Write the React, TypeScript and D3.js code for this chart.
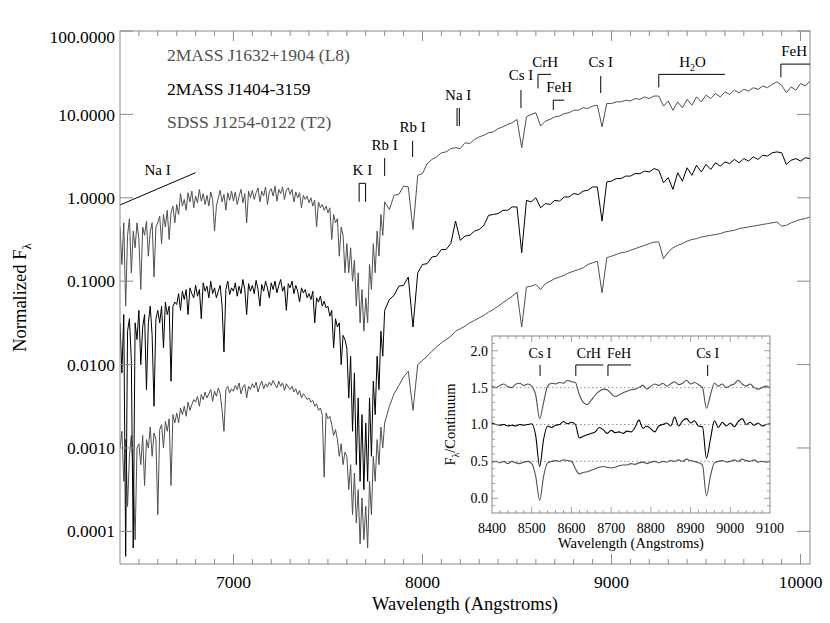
import React from 'react';
import * as d3 from 'd3';

// ---------- DATA ----------
// wavelength grid (Angstroms) shared by the three spectra
const blueWavelengths = [
  6400,6410,6420,6430,6440,6450,6460,6470,6480,6490,
  6500,6510,6520,6530,6540,6550,6560,6570,6580,6590,
  6600,6610,6620,6630,6640,6650,6660,6670,6680,6690,
  6700,6710,6720,6730,6740,6750,6760,6770,6780,6790,
  6800,6810,6820,6830,6840,6850,6860,6870,6880,6890,
  6900,6910,6920,6930,6940,6950,6960,6970,6980,6990,
  7000,7010,7020,7030,7040,7050,7060,7070,7080,7090,
  7100,7110,7120,7130,7140,7150,7160,7170,7180,7190,
  7200,7210,7220,7230,7240,7250,7260,7270,7280,7290,
  7300,7310,7320,7330,7340,7350,7360,7370,7380,7390,
  7400,7410,7420,7430,7440,7450,7460,7470,7480,7490,
  7500,7510,7520,7530,7540,7550,7560,7570,7580,7590,
  7600,7610,7620,7630,7640,7650,7660,7670,7680,7690,
  7700,7710,7720,7730,7740,7750,7760,7770,7780,7790,
];
const redWavelengths = [
  7800,7825,7850,7875,7900,7925,7950,7975,8000,8025,
  8050,8075,8100,8125,8150,8175,8200,8225,8250,8275,
  8300,8325,8350,8375,8400,8425,8450,8475,8500,8525,
  8550,8575,8600,8625,8650,8675,8700,8725,8750,8775,
  8800,8825,8850,8875,8900,8925,8950,8975,9000,9025,
  9050,9075,9100,9125,9150,9175,9200,9225,9250,9275,
  9300,9325,9350,9375,9400,9425,9450,9475,9500,9525,
  9550,9575,9600,9625,9650,9675,9700,9725,9750,9775,
  9800,9825,9850,9875,9900,9925,9950,9975,10000,10025,
  10050,
];
const wavelengths = [...blueWavelengths, ...redWavelengths];

// log10 of normalized F_lambda
const l8LogFlux = [
  -0.35,-0.8,-0.3,-1.3,-0.45,-0.25,-0.9,-0.4,-0.6,-0.3,
  -0.5,-1.1,-0.35,-0.45,-0.28,-0.7,-0.4,-0.3,-0.95,-0.35,
  -0.3,-0.22,-0.55,-0.2,-0.35,-0.15,-0.5,-0.18,-0.1,-0.3,
  -0.08,-0.2,0.05,-0.1,-0.02,-0.15,0.06,-0.05,0.08,-0.12,
  0.02,-0.06,0.1,-0.04,0.05,-0.08,0.03,-0.1,0.07,-0.02,
  -0.4,-0.1,0.0,0.09,-0.05,0.04,-0.15,0.06,-0.03,0.08,
  -0.04,0.07,-0.08,0.02,0.1,-0.06,0.05,-0.3,0.08,0.0,
  0.09,-0.02,0.06,0.12,-0.05,0.08,0.02,0.13,-0.08,0.07,
  0.11,0.02,0.14,-0.04,0.1,0.05,0.13,-0.02,0.09,0.12,
  0.04,0.1,-0.05,0.07,0.0,0.06,-0.12,0.03,-0.02,0.02,
  -0.06,0.0,-0.1,-0.03,-0.35,-0.05,-0.12,-0.08,-0.15,-0.1,
  -0.18,-0.12,-0.5,-0.2,-0.3,-0.25,-0.7,-0.35,-0.45,-0.9,
  -0.55,-0.9,-0.6,-1.0,-0.75,-1.3,-0.9,-1.5,-1.1,-1.6,
  -1.2,-1.5,-0.8,-1.1,-0.55,-0.9,-0.4,-0.7,-0.2,-0.45,
  -0.05,-0.14,0.03,0.04,0.14,0.13,-0.38,0.27,0.29,0.41,
  0.46,0.49,0.54,0.55,0.59,0.6,0.59,0.66,0.65,0.7,
  0.73,0.75,0.78,0.79,0.83,0.85,0.88,0.9,0.94,0.6,
  0.97,1.0,1.02,0.86,0.92,0.94,0.97,0.98,1.01,1.02,
  1.05,1.05,1.08,1.07,1.1,1.11,0.85,1.13,1.13,1.15,
  1.15,1.17,1.16,1.19,1.18,1.21,1.19,1.22,1.22,1.1,
  1.16,1.05,1.15,1.08,1.18,1.11,1.21,1.15,1.23,1.19,
  1.25,1.21,1.27,1.24,1.29,1.26,1.3,1.28,1.32,1.3,
  1.34,1.32,1.36,1.39,1.35,1.26,1.33,1.29,1.37,1.34,
  1.4,
];
const j1404LogFlux = [
  -1.5,-2.1,-1.4,-4.3,-1.6,-1.45,-1.95,-4.2,-1.5,-1.7,
  -1.35,-2.0,-1.55,-1.4,-2.3,-1.5,-1.3,-1.65,-2.5,-1.45,
  -1.35,-1.5,-1.3,-1.8,-1.25,-1.4,-1.3,-2.2,-1.3,-1.25,
  -1.28,-1.15,-1.35,-1.12,-1.22,-1.1,-1.4,-1.08,-1.15,-1.2,
  -1.05,-1.18,-1.1,-1.45,-1.02,-1.12,-1.06,-1.2,-1.0,-1.15,
  -1.08,-1.2,-1.12,-1.05,-1.3,-1.85,-1.1,-1.0,-1.16,-1.08,
  -1.12,-1.02,-1.18,-1.06,-1.15,-0.98,-1.1,-1.4,-1.03,-1.12,
  -1.05,-1.15,-0.99,-1.1,-1.3,-1.04,-1.12,-1.0,-1.08,-1.2,
  -1.02,-1.1,-1.0,-1.14,-1.05,-0.98,-1.12,-1.06,-1.35,-1.03,
  -1.08,-1.0,-1.15,-1.05,-1.12,-1.25,-1.08,-1.14,-1.1,-1.2,
  -1.15,-1.22,-1.12,-1.5,-1.2,-1.25,-1.18,-1.3,-1.24,-1.32,
  -1.3,-1.42,-1.35,-1.8,-1.45,-1.55,-1.5,-2.0,-1.65,-1.7,
  -1.8,-2.4,-1.9,-2.8,-2.1,-3.2,-2.4,-3.4,-2.6,-3.5,
  -2.7,-3.4,-2.4,-3.1,-2.2,-2.6,-1.9,-2.3,-1.6,-1.9,
  -1.35,-1.22,-1.17,-1.06,-1.05,-0.95,-1.55,-0.9,-0.8,-0.79,
  -0.71,-0.7,-0.62,-0.62,-0.55,-0.28,-0.51,-0.46,-0.45,-0.4,
  -0.38,-0.33,-0.21,-0.2,-0.19,-0.15,-0.15,-0.11,-0.11,-0.66,
  -0.03,-0.05,0.0,-0.12,-0.07,-0.08,-0.03,-0.04,0.01,0.01,
  0.05,0.04,0.08,0.09,0.13,0.13,-0.28,0.19,0.2,0.23,
  0.23,0.26,0.26,0.29,0.29,0.32,0.31,0.35,0.33,0.18,
  0.24,0.1,0.3,0.2,0.36,0.27,0.39,0.31,0.4,0.34,
  0.42,0.38,0.43,0.41,0.46,0.42,0.47,0.44,0.49,0.46,
  0.51,0.5,0.54,0.55,0.54,0.4,0.45,0.47,0.44,0.48,
  0.47,
];
const t2LogFlux = [
  -3.0,-2.8,-3.4,-2.9,-3.7,-3.1,-2.85,-3.3,-4.1,-3.0,
  -2.95,-3.2,-2.85,-3.45,-2.9,-3.0,-2.75,-3.1,-2.82,-2.9,
  -3.8,-2.78,-2.72,-3.0,-2.68,-2.8,-2.65,-3.45,-2.6,-2.7,
  -2.58,-2.7,-2.52,-2.6,-2.5,-2.62,-2.45,-2.55,-2.48,-2.42,
  -2.45,-2.38,-2.5,-2.36,-2.42,-2.33,-2.4,-2.35,-2.3,-2.44,
  -2.32,-2.38,-2.28,-2.35,-2.55,-2.8,-2.3,-2.26,-2.34,-2.29,
  -2.32,-2.25,-2.3,-2.22,-2.35,-2.27,-2.24,-2.4,-2.26,-2.3,
  -2.23,-2.28,-2.21,-2.33,-2.25,-2.2,-2.29,-2.23,-2.27,-2.21,
  -2.25,-2.19,-2.24,-2.28,-2.2,-2.26,-2.22,-2.31,-2.23,-2.27,
  -2.3,-2.26,-2.33,-2.29,-2.36,-2.31,-2.4,-2.35,-2.38,-2.42,
  -2.4,-2.45,-2.43,-2.5,-2.47,-2.55,-2.52,-2.6,-3.35,-2.58,
  -2.65,-2.62,-2.72,-2.85,-2.78,-2.9,-3.1,-2.95,-3.2,-3.05,
  -3.1,-3.5,-3.2,-3.8,-3.3,-3.9,-3.5,-4.15,-3.6,-4.1,
  -3.7,-4.2,-3.4,-3.8,-3.1,-3.4,-2.9,-3.2,-2.75,-3.0,
  -2.7,-2.5,-2.35,-2.25,-2.15,-2.08,-2.55,-2.0,-1.95,-1.9,
  -1.84,-1.79,-1.74,-1.7,-1.66,-1.6,-1.57,-1.54,-1.5,-1.47,
  -1.44,-1.41,-1.37,-1.34,-1.3,-1.26,-1.22,-1.18,-1.13,-1.55,
  -1.07,-1.06,-1.04,-1.1,-1.03,-1.0,-0.97,-0.95,-0.93,-0.9,
  -0.88,-0.86,-0.84,-0.8,-0.78,-0.76,-1.14,-0.72,-0.7,-0.68,
  -0.66,-0.65,-0.63,-0.61,-0.59,-0.57,-0.55,-0.53,-0.53,-0.73,
  -0.65,-0.6,-0.57,-0.55,-0.52,-0.5,-0.49,-0.47,-0.46,-0.45,
  -0.44,-0.43,-0.41,-0.4,-0.39,-0.37,-0.36,-0.35,-0.34,-0.33,
  -0.32,-0.31,-0.3,-0.29,-0.34,-0.33,-0.3,-0.28,-0.26,-0.25,
  -0.23,
];

const sourceNames = ['2MASS J1632+1904 (L8)', '2MASS J1404-3159', 'SDSS J1254-0122 (T2)'];
const yTickValues = [100, 10, 1, 0.1, 0.01, 0.001, 0.0001];
const xTickLabels = [7000, 8000, 9000, 10000];

// inset: F_lambda / continuum (offset)
const insetWavelengths = [
  8400,8410,8420,8430,8440,8450,8460,8470,8480,8490,
  8500,8510,8520,8530,8540,8550,8560,8570,8580,8590,
  8600,8610,8620,8630,8640,8650,8660,8670,8680,8690,
  8700,8710,8720,8730,8740,8750,8760,8770,8780,8790,
  8800,8810,8820,8830,8840,8850,8860,8870,8880,8890,
  8900,8910,8920,8930,8940,8950,8960,8970,8980,8990,
  9000,9010,9020,9030,9040,9050,9060,9070,9080,9090,
  9100,
];
const insetL8 = [
  1.52,1.5,1.53,1.55,1.51,1.5,1.55,1.56,1.53,1.55,
  1.52,1.4,1.08,1.3,1.52,1.56,1.55,1.57,1.56,1.6,
  1.58,1.57,1.4,1.3,1.27,1.33,1.4,1.45,1.48,1.47,
  1.42,1.38,1.4,1.43,1.45,1.47,1.48,1.5,1.53,1.48,
  1.52,1.55,1.53,1.56,1.52,1.55,1.58,1.54,1.56,1.6,
  1.55,1.57,1.54,1.5,1.22,1.4,1.56,1.52,1.55,1.5,
  1.53,1.55,1.6,1.55,1.52,1.55,1.5,1.48,1.5,1.52,
  1.5,
];
const insetJ1404 = [
  1.02,1.0,0.99,1.0,0.98,0.99,0.98,1.0,0.99,1.0,
  1.01,0.85,0.43,0.8,0.98,0.96,0.99,1.0,1.04,1.01,
  1.03,1.0,0.82,0.84,0.86,0.88,0.9,0.96,0.93,0.88,
  0.92,0.89,0.9,0.88,0.91,0.9,0.96,1.06,0.95,0.98,
  0.94,0.9,0.98,1.0,1.02,0.98,1.1,0.98,1.05,1.08,
  1.02,1.05,0.98,0.97,0.54,0.8,1.05,0.96,1.03,0.98,
  1.02,0.97,1.04,1.08,1.0,1.03,0.99,1.02,0.98,1.0,
  1.01,
];
const insetT2 = [
  0.49,0.5,0.48,0.5,0.47,0.5,0.48,0.47,0.49,0.5,
  0.47,0.3,-0.03,0.3,0.48,0.5,0.51,0.5,0.52,0.51,
  0.5,0.4,0.33,0.35,0.36,0.38,0.4,0.42,0.43,0.42,
  0.41,0.42,0.44,0.45,0.45,0.47,0.46,0.48,0.49,0.47,
  0.49,0.5,0.48,0.5,0.49,0.51,0.5,0.52,0.5,0.53,
  0.51,0.5,0.48,0.45,0.03,0.3,0.48,0.5,0.51,0.49,
  0.5,0.52,0.5,0.53,0.51,0.5,0.52,0.49,0.5,0.49,
  0.5,
];
const insetXTicks = [8400, 8500, 8600, 8700, 8800, 8900, 9000, 9100];
const insetYTicks = [0, 0.5, 1, 1.5, 2];
const insetLevels = [0.5, 1, 1.5];

// line identifications (wavelength in Angstroms, heights in normalized flux)
const mainTicks = [
  { label: 'Rb I', wl: [7800], lo: 1.82, hi: 2.99, ty: 4.28 },
  { label: 'Rb I', wl: [7948], lo: 3.08, hi: 4.82, ty: 7.04 },
  { label: 'Na I', wl: [8183, 8195], lo: 7.24, hi: 11.9, ty: 17.0 },
  { label: 'Cs I', wl: [8521], lo: 11.9, hi: 19.6, ty: 29.6 },
  { label: 'Cs I', wl: [8943], lo: 18.0, hi: 28.8, ty: 42.7 },
];
const mainBands = [
  { label: 'CrH', from: 8611, to: 8680, lo: 20.5, hi: 30.2, tx: 8649, ty: 42.7 },
  { label: 'FeH', from: 8692, to: 8750, lo: 11.3, hi: 14.8, tx: 8723, ty: 21.4 },
  { label: 'H2O', from: 9250, to: 9600, lo: 21.1, hi: 30.2, tx: 9429, ty: 42.7 },
  { label: 'FeH', from: 9896, to: 10050, lo: 27.8, hi: 40.1, tx: 9966, ty: 57.4 },
];
const kIDoublet = { label: 'K I', from: 7665, to: 7699, lo: 0.895, hi: 1.49, tx: 7682, ty: 2.15 };
const naIWing = { label: 'Na I', from: [6400, 0.82], to: [6800, 2.0], tx: 6599, ty: 2.15 };

const insetTicks = [
  { label: 'Cs I', wl: 8521 },
  { label: 'Cs I', wl: 8943 },
];
const insetBands = [
  { label: 'CrH', from: 8611, to: 8680, tx: 8644 },
  { label: 'FeH', from: 8692, to: 8750, tx: 8720 },
];

// ---------- CHART ----------
const FONT = "'Liberation Serif','Times New Roman',Times,serif";
const GRAY = '#505050';
const AXIS = '#8a8a8a';

export default function App() {
  const P = { left: 120, right: 810, top: 31, bottom: 564 };
  const x = d3.scaleLinear().domain([6400, 10050]).range([P.left, P.right]);
  const y = d3.scaleLog().domain([4.06e-5, 100]).range([P.bottom, P.top]);

  const specLine = d3
    .line<number>()
    .x((_, i) => x(wavelengths[i]))
    .y((v) => y(Math.pow(10, v)));

  const series = [
    { vals: l8LogFlux, color: GRAY },
    { vals: t2LogFlux, color: GRAY },
    { vals: j1404LogFlux, color: '#000' },
  ];

  const I = { left: 492, right: 770, top: 336, bottom: 513 };
  const ix = d3.scaleLinear().domain([8400, 9100]).range([I.left, I.right]);
  const iy = d3.scaleLinear().domain([-0.2, 2.2]).range([I.bottom, I.top]);
  const insetLine = d3
    .line<number>()
    .x((_, i) => ix(insetWavelengths[i]))
    .y((v) => iy(v))
    .curve(d3.curveMonotoneX);
  const insetSeries = [
    { vals: insetL8, color: GRAY },
    { vals: insetT2, color: GRAY },
    { vals: insetJ1404, color: '#000' },
  ];

  const xMinor = d3.range(6500, 10050, 100);
  const ixMinor = d3.range(8420, 9100, 20);
  const iyMinor = d3.range(-0.1, 2.2, 0.1);

  const fmt = d3.format('.4f');
  const annFs = 15;

  return (
    <svg
      width={830}
      height={623}
      style={{ position: 'absolute', left: 0, top: 0 }}
      fontFamily={FONT}
    >
      <rect x={0} y={0} width={830} height={623} fill="#fff" />
      <defs>
        <clipPath id="plotClip">
          <rect x={P.left} y={P.top} width={P.right - P.left} height={P.bottom - P.top} />
        </clipPath>
      </defs>

      {/* spectra */}
      <g clipPath="url(#plotClip)">
        {series.map((s, k) => (
          <path key={k} d={specLine(s.vals) || ''} fill="none" stroke={s.color} strokeWidth={1} strokeLinejoin="round" />
        ))}
        <line
          x1={x(naIWing.from[0])}
          y1={y(naIWing.from[1])}
          x2={x(naIWing.to[0])}
          y2={y(naIWing.to[1])}
          stroke="#000"
          strokeWidth={1}
        />
      </g>

      {/* frame */}
      <rect x={P.left} y={P.top} width={P.right - P.left} height={P.bottom - P.top} fill="none" stroke={AXIS} strokeWidth={1} />
      {xMinor.map((w) => {
        const len = w % 1000 === 0 ? 10 : 5;
        return (
          <g key={w} stroke={AXIS} strokeWidth={1}>
            <line x1={x(w)} x2={x(w)} y1={P.bottom} y2={P.bottom - len} />
            <line x1={x(w)} x2={x(w)} y1={P.top} y2={P.top + len} />
          </g>
        );
      })}
      {yTickValues.map((v) => (
        <g key={v} stroke={AXIS} strokeWidth={1}>
          <line x1={P.left} x2={P.left + 13} y1={y(v)} y2={y(v)} />
          <line x1={P.right} x2={P.right - 13} y1={y(v)} y2={y(v)} />
        </g>
      ))}
      {yTickValues.map((v) => (
        <text
          key={'l' + v}
          x={P.left - 5}
          y={y(v) + (v === 100 ? 6 : 0)}
          dy="0.35em"
          textAnchor="end"
          fontSize={17.5}
          fill="#000"
        >
          {fmt(v)}
        </text>
      ))}
      {xTickLabels.map((w) => (
        <text key={w} x={x(w)} y={582} dy="0.35em" textAnchor="middle" fontSize={17.5} fill="#000">
          {w}
        </text>
      ))}
      <text x={(P.left + P.right) / 2} y={604} dy="0.35em" textAnchor="middle" fontSize={18.5} fill="#000">
        Wavelength (Angstroms)
      </text>
      <text transform={`translate(26,${(P.top + P.bottom) / 2}) rotate(-90)`} textAnchor="middle" fontSize={18.5} fill="#000">
        Normalized F<tspan dy={5} fontSize={13}>λ</tspan>
      </text>

      {/* legend */}
      {sourceNames.map((n, k) => (
        <text key={n} x={167} y={55 + k * 33.5} dy="0.35em" fontSize={17.5} fill={k === 1 ? '#000' : GRAY}>
          {n}
        </text>
      ))}

      {/* line identifications */}
      <g stroke="#000" strokeWidth={1} fill="none">
        {mainTicks.map((t, k) =>
          t.wl.map((w) => <line key={k + '-' + w} x1={x(w)} x2={x(w)} y1={y(t.lo)} y2={y(t.hi)} />)
        )}
        {mainBands.map((b, k) => (
          <path key={'b' + k} d={`M${x(b.from)},${y(b.lo)}V${y(b.hi)}H${x(b.to)}`} />
        ))}
        <path
          d={`M${x(kIDoublet.from)},${y(kIDoublet.lo)}V${y(kIDoublet.hi)}H${x(kIDoublet.to)}V${y(kIDoublet.lo)}`}
        />
      </g>
      <g fontSize={annFs} fill="#000" textAnchor="middle">
        {mainTicks.map((t, k) => (
          <text key={'t' + k} x={x(d3.mean(t.wl) as number)} y={y(t.ty)} dy="0.35em">
            {t.label}
          </text>
        ))}
        {mainBands.map((b, k) => (
          <text key={'bt' + k} x={x(b.tx)} y={y(b.ty)} dy="0.35em">
            {b.label === 'H2O' ? (
              <>
                H<tspan dy={4} fontSize={10}>2</tspan>
                <tspan dy={-4}>O</tspan>
              </>
            ) : (
              b.label
            )}
          </text>
        ))}
        <text x={x(kIDoublet.tx)} y={y(kIDoublet.ty)} dy="0.35em">{kIDoublet.label}</text>
        <text x={x(naIWing.tx)} y={y(naIWing.ty)} dy="0.35em">{naIWing.label}</text>
      </g>

      {/* inset */}
      <rect x={I.left} y={I.top} width={I.right - I.left} height={I.bottom - I.top} fill="#fff" stroke={AXIS} strokeWidth={1} />
      {insetLevels.map((v) => (
        <line key={v} x1={ix(8400)} x2={ix(9100)} y1={iy(v)} y2={iy(v)} stroke="#777" strokeWidth={0.8} strokeDasharray="1.5,2.5" />
      ))}
      {insetSeries.map((s, k) => (
        <path key={k} d={insetLine(s.vals) || ''} fill="none" stroke={s.color} strokeWidth={1.1} />
      ))}
      {ixMinor.map((w) => {
        const len = w % 100 === 0 ? 6 : 3;
        return (
          <g key={w} stroke={AXIS} strokeWidth={0.8}>
            <line x1={ix(w)} x2={ix(w)} y1={I.bottom} y2={I.bottom - len} />
            <line x1={ix(w)} x2={ix(w)} y1={I.top} y2={I.top + len} />
          </g>
        );
      })}
      {iyMinor.map((v, k) => {
        const major = Math.abs(v * 2 - Math.round(v * 2)) < 1e-6;
        const len = major ? 6 : 3;
        return (
          <g key={k} stroke={AXIS} strokeWidth={0.8}>
            <line x1={I.left} x2={I.left + len} y1={iy(v)} y2={iy(v)} />
            <line x1={I.right} x2={I.right - len} y1={iy(v)} y2={iy(v)} />
          </g>
        );
      })}
      {insetXTicks.map((w) => (
        <text key={w} x={ix(w)} y={528} dy="0.35em" textAnchor="middle" fontSize={14} fill="#000">
          {w}
        </text>
      ))}
      {insetYTicks.map((v) => (
        <text key={v} x={I.left - 4} y={iy(v)} dy="0.35em" textAnchor="end" fontSize={14} fill="#000">
          {v.toFixed(1)}
        </text>
      ))}
      <text x={(I.left + I.right) / 2} y={543} dy="0.35em" textAnchor="middle" fontSize={14.5} fill="#000">
        Wavelength (Angstroms)
      </text>
      <text transform={`translate(455,${(I.top + I.bottom) / 2}) rotate(-90)`} textAnchor="middle" fontSize={14.5} fill="#000">
        F<tspan dy={4} fontSize={10}>λ</tspan>
        <tspan dy={-4}>/Continuum</tspan>
      </text>
      <g stroke="#000" strokeWidth={1} fill="none">
        {insetTicks.map((t, k) => (
          <line key={k} x1={ix(t.wl)} x2={ix(t.wl)} y1={iy(1.658)} y2={iy(1.807)} />
        ))}
        {insetBands.map((b, k) => (
          <path key={'ib' + k} d={`M${ix(b.from)},${iy(1.658)}V${iy(1.807)}H${ix(b.to)}`} />
        ))}
      </g>
      <g fontSize={14} fill="#000" textAnchor="middle">
        {insetTicks.map((t, k) => (
          <text key={k} x={ix(t.wl)} y={iy(1.97)} dy="0.35em">{t.label}</text>
        ))}
        {insetBands.map((b, k) => (
          <text key={'ibt' + k} x={ix(b.tx)} y={iy(1.97)} dy="0.35em">{b.label}</text>
        ))}
      </g>
    </svg>
  );
}
